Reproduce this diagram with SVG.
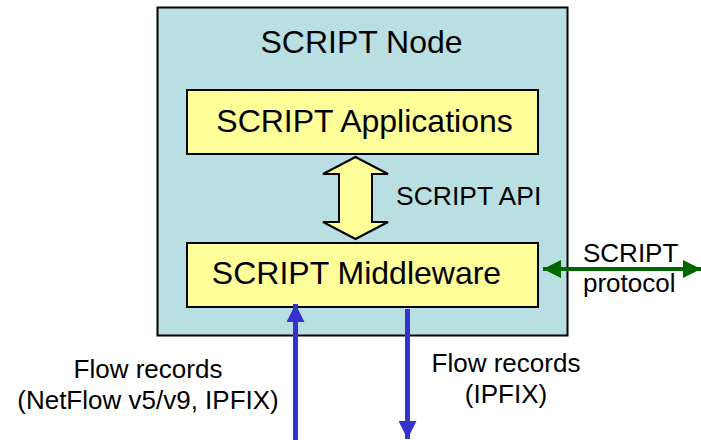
<svg xmlns="http://www.w3.org/2000/svg" width="701" height="440" viewBox="0 0 701 440">
  <style>
    text { font-family: "Liberation Sans", Arial, sans-serif; fill: #000; }
    .box { fill: #ffff99; stroke: #000; stroke-width: 2; }
    .flow { stroke: #3333cc; stroke-width: 5; fill: none; }
    .proto { stroke: #006600; stroke-width: 4; fill: none; }
  </style>
  <defs>
    <marker id="blueHead" viewBox="0 0 10 10" refX="10" refY="5" markerWidth="3.6" markerHeight="3.6" markerUnits="strokeWidth" orient="auto">
      <path d="M0,0 L10,5 L0,10 z" fill="#3333cc"/>
    </marker>
    <marker id="greenHead" viewBox="0 0 10 10" refX="10" refY="5" markerWidth="4.5" markerHeight="4.5" markerUnits="strokeWidth" orient="auto-start-reverse">
      <path d="M0,0 L10,5 L0,10 z" fill="#006600"/>
    </marker>
  </defs>

  <g id="script-node">
    <rect x="157.5" y="7.5" width="410" height="328" fill="#b9dfe3" stroke="#000" stroke-width="2"/>
    <text x="361.5" y="53" font-size="32" text-anchor="middle">SCRIPT Node</text>
  </g>

  <g id="applications">
    <rect class="box" x="187" y="90" width="351" height="64"/>
    <text x="364.5" y="132" font-size="32" text-anchor="middle">SCRIPT Applications</text>
  </g>

  <g id="middleware">
    <rect class="box" x="187" y="243" width="351" height="64"/>
    <text x="356.5" y="284" font-size="32" text-anchor="middle">SCRIPT Middleware</text>
  </g>

  <g id="connectors">
    <!-- API double arrow between applications and middleware -->
    <path d="M355.5,157 L388,174 L372,174 L372,222 L388,222 L355.5,239 L323,222 L339,222 L339,174 L323,174 Z" fill="#ffff99" stroke="#000" stroke-width="2" stroke-linejoin="miter"/>
    <text x="396" y="205" font-size="26.5">SCRIPT API</text>

    <!-- protocol link to peers -->
    <line class="proto" x1="543" y1="269" x2="701" y2="269" marker-start="url(#greenHead)" marker-end="url(#greenHead)"/>
    <text x="583" y="262" font-size="26">SCRIPT</text>
    <text x="583" y="292" font-size="26">protocol</text>

    <!-- incoming flow records -->
    <line class="flow" x1="295.5" y1="440" x2="295.5" y2="304" marker-end="url(#blueHead)"/>
    <text x="148" y="378" font-size="26" text-anchor="middle">Flow records</text>
    <text x="148" y="409" font-size="26" text-anchor="middle">(NetFlow v5/v9, IPFIX)</text>

    <!-- exported flow records -->
    <line class="flow" x1="407.5" y1="309" x2="407.5" y2="439" marker-end="url(#blueHead)"/>
    <text x="506" y="372" font-size="26" text-anchor="middle">Flow records</text>
    <text x="506" y="403" font-size="26" text-anchor="middle">(IPFIX)</text>
  </g>
</svg>
